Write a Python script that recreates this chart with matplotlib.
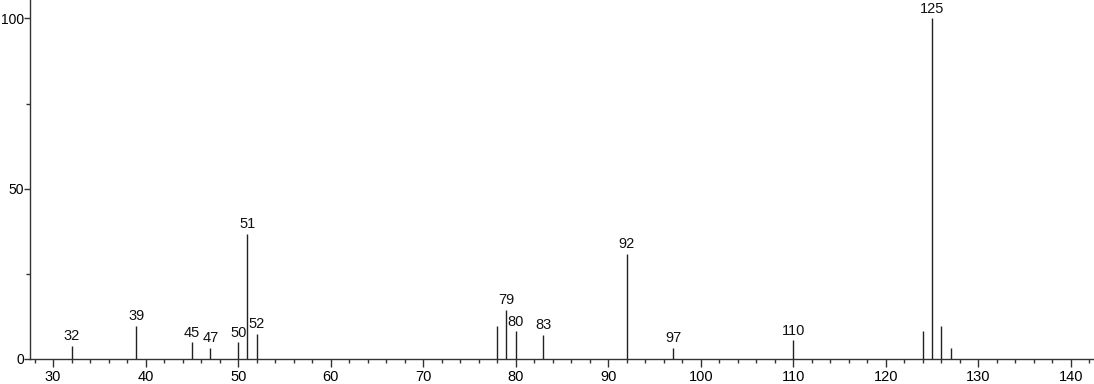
import matplotlib
matplotlib.use("Agg")
import matplotlib.pyplot as plt
from matplotlib.ticker import MultipleLocator

mz = [32, 39, 45, 47, 50, 51, 52, 78, 79, 80, 83, 92, 97, 110, 124, 125, 126, 127]
intensity = [3.9, 9.8, 4.9, 3.2, 4.9, 36.7, 7.3, 9.6, 14.5, 8.1, 7.1, 30.9, 3.2, 5.5, 8.1, 100.0, 9.6, 3.2]
labeled = [32, 39, 45, 47, 50, 51, 52, 79, 80, 83, 92, 97, 110, 125]

plt.rcParams['font.family'] = ['Liberation Sans', 'DejaVu Sans']

fig = plt.figure(figsize=(10.94, 3.84), dpi=100)
ax = fig.add_axes([30/1094, 25/384, 1064/1094, 359/384])

ax.vlines(mz, 0, intensity, color='#222222', linewidth=1.0)
for m, v in zip(mz, intensity):
    if m in labeled:
        ax.text(m, v + 0.8, str(m), ha='center', va='bottom', fontsize=10.5, color='#111111')

ax.set_xlim(27.5, 142.5)
ax.set_ylim(0, 105.4)
ax.xaxis.set_major_locator(MultipleLocator(10))
ax.xaxis.set_minor_locator(MultipleLocator(2))
ax.yaxis.set_major_locator(MultipleLocator(50))
ax.yaxis.set_minor_locator(MultipleLocator(25))
for s in ['top', 'right']:
    ax.spines[s].set_visible(False)
for s in ['left', 'bottom']:
    ax.spines[s].set_color('#333333')
    ax.spines[s].set_linewidth(1.0)
ax.tick_params(which='major', direction='out', length=6, width=1, color='#333333', labelsize=10.5)
ax.tick_params(axis='x', which='major', pad=2)
ax.tick_params(axis='y', which='major', pad=0.3, length=4, labelsize=10)
ax.tick_params(which='minor', direction='out', length=3, width=1, color='#333333')

fig.savefig('out.png', dpi=100)
